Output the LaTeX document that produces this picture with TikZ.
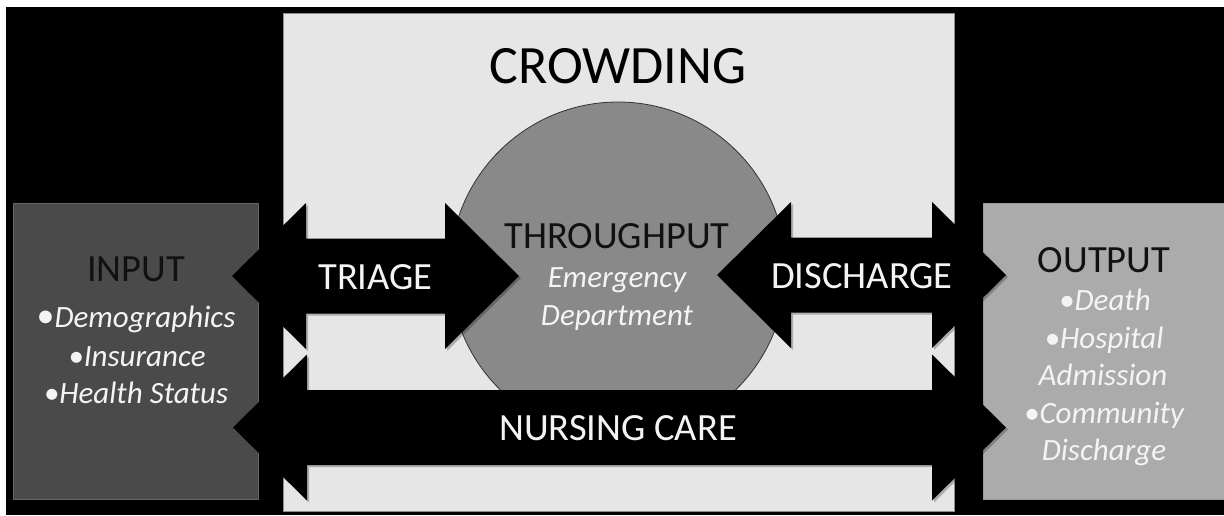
\documentclass[tikz,border=0pt]{standalone}
\usepackage{fontspec}
\setmainfont{Carlito}
\usetikzlibrary{shadows}

\definecolor{crowdfill}{HTML}{E6E6E6}
\definecolor{inputfill}{HTML}{4A4A4A}
\definecolor{outputfill}{HTML}{ABABAB}
\definecolor{edfill}{HTML}{898989}
\definecolor{softwhite}{HTML}{F4F4F4}
\definecolor{inktext}{HTML}{111111}

% one block arrow with a head at each end: left tip x, right tip x, centre y
\newcommand\blockarrow[3]{%
  \path[blockarrow]
    (#1,#3) -- (#1+74,#3-73) -- (#1+74,#3-37.5) -- (#2-74,#3-37.5)
    -- (#2-74,#3-73) -- (#2,#3) -- (#2-74,#3+73) -- (#2-74,#3+37.5)
    -- (#1+74,#3+37.5) -- (#1+74,#3+73) -- cycle;}

\begin{document}
\begin{tikzpicture}[x=1pt,y=-1pt,
  panel/.style={rectangle,inner sep=0pt,anchor=north west},
  blockarrow/.style={fill=black,
    drop shadow={shadow xshift=2pt,shadow yshift=-2pt,opacity=0.25,fill=black}},
  heading/.style={anchor=base,inner sep=0pt,text=inktext,
    font=\fontsize{38.5}{46}\selectfont},
  armlabel/.style={anchor=base,inner sep=0pt,text=softwhite,
    font=\fontsize{38.5}{46}\selectfont},
  detail/.style={anchor=base,inner sep=0pt,text=softwhite,
    font=\fontsize{31}{37}\selectfont\itshape}]

\useasboundingbox (0,0) rectangle (1224,515);
\fill[white] (0,0) rectangle (1224,515);
\fill[black] (6,7) rectangle (1224,515);

% panels
\node[panel,fill=crowdfill,draw=black!45,line width=0.8pt,
      minimum width=671pt,minimum height=498pt] (crowd) at (283,13) {};
\node[panel,fill=inputfill,draw=black!60,line width=0.6pt,
      minimum width=245pt,minimum height=296pt] (input) at (13,203) {};
\node[panel,fill=outputfill,draw=black!40,line width=0.6pt,
      minimum width=243pt,minimum height=296pt] (output) at (983,203) {};

% emergency department
\node[circle,fill=edfill,draw=black!80,line width=0.8pt,inner sep=0pt,
      minimum size=336pt] (ed) at (618,270) {};

% crowding title
\node[anchor=base,inner sep=0pt,text=black,
      font=\fontsize{54}{62}\selectfont] (crowding) at (618,83) {CROWDING};

% throughput labels
\node[heading] (throughput) at (617,248) {THROUGHPUT};
\node[detail] (emergency) at (617,287) {Emergency};
\node[detail] (department) at (617,325) {Department};

% block arrows
\blockarrow{232}{519}{276}
\blockarrow{717}{1006}{275}
\blockarrow{233}{1006}{427.5}

\node[armlabel] (triage) at (375.5,289) {TRIAGE};
\node[armlabel] (discharge) at (862,288) {DISCHARGE};
\node[armlabel] (nursing) at (618,440) {NURSING CARE};

% input panel text
\node[heading] (inputtitle) at (136,281) {INPUT};
\node[detail] (demo) at (136,327)
  {{\upshape\fontsize{36}{36}\selectfont\textbullet}Demographics};
\node[detail] (insur) at (137,366) {\textbullet Insurance};
\node[detail] (health) at (136,403) {\textbullet Health Status};

% output panel text
\node[heading] (outputtitle) at (1104,272) {OUTPUT};
\node[detail] (death) at (1105,310) {\textbullet Death};
\node[detail] (hosp) at (1104,348) {\textbullet Hospital};
\node[detail] (admit) at (1103,385) {Admission};
\node[detail] (comm) at (1104,423) {\textbullet Community};
\node[detail] (disch) at (1104,460) {Discharge};
\end{tikzpicture}
\end{document}
